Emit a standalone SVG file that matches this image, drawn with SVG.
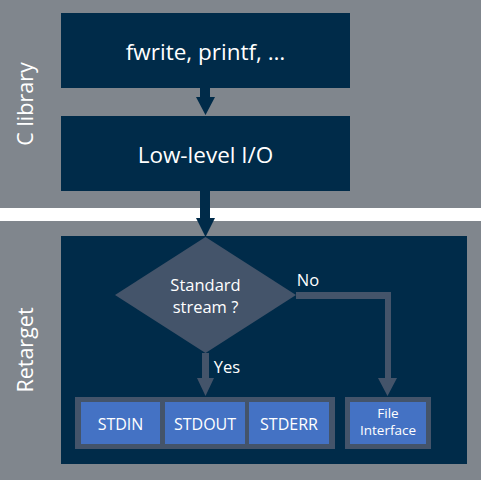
<svg xmlns="http://www.w3.org/2000/svg" width="481" height="480" viewBox="0 0 481 480">
<style>
.t{font-family:"Open Sans","Noto Sans","Liberation Sans",sans-serif;fill:#fff;text-anchor:middle}
.navy{fill:#002b49}
.slate{fill:#44546a}
.blue{fill:#4472c4}
</style>
<rect x="0" y="0" width="481" height="480" fill="#80868d"/>
<rect x="0" y="208" width="481" height="13" fill="#fff"/>
<text class="t" font-size="21.5" transform="translate(33,104) rotate(-90)">C library</text>
<text class="t" font-size="21.5" transform="translate(33,350) rotate(-90)">Retarget</text>
<g id="retarget"><rect class="navy" x="61" y="236" width="406" height="228"/></g>
<g id="connectors">
<path class="navy" d="M200,88H210V97H215L205.5,115L196,97H200Z"/>
<path class="navy" d="M200,191H210V218H215L205.5,237L196,218H200Z"/>
<path class="slate" d="M202,353H209V378H214L205.5,396L197,378H202Z"/>
<path class="slate" d="M296,292H391V378H397L387.5,396L378,378H385V299H296Z"/>
<text class="t" font-size="16.5" x="227" y="373">Yes</text>
<text class="t" font-size="16.5" x="308" y="286">No</text>
</g>
<g id="fwrite"><rect class="navy" x="61" y="13" width="289" height="75"/><text class="t" font-size="22.5" x="205.5" y="60">fwrite, printf, …</text></g>
<g id="lowlevel"><rect class="navy" x="61" y="116" width="289" height="75"/><text class="t" font-size="22.5" x="205.5" y="163">Low-level I/O</text></g>
<g id="decision"><path class="slate" d="M205.5,237L296,295L205.5,353L115,295Z"/><text class="t" font-size="16.5" x="205.5" y="291">Standard</text><text class="t" font-size="16.5" x="205.5" y="313">stream ?</text></g>
<g id="stdgroup"><rect class="slate" x="75" y="397" width="260" height="52"/></g>
<g id="stdin"><rect class="blue" x="81" y="402" width="79" height="42"/><text class="t" font-size="16" x="120.5" y="430">STDIN</text></g>
<g id="stdout"><rect class="blue" x="165" y="402" width="80" height="42"/><text class="t" font-size="16" x="205" y="430">STDOUT</text></g>
<g id="stderr"><rect class="blue" x="249" y="402" width="80" height="42"/><text class="t" font-size="16" x="289" y="430">STDERR</text></g>
<g id="filegroup"><rect class="slate" x="345" y="397" width="86" height="52"/></g>
<g id="file"><rect class="blue" x="350" y="402" width="76" height="42"/><text class="t" font-size="13.5" x="388" y="418">File</text><text class="t" font-size="13.5" x="388" y="435">Interface</text></g>
</svg>
